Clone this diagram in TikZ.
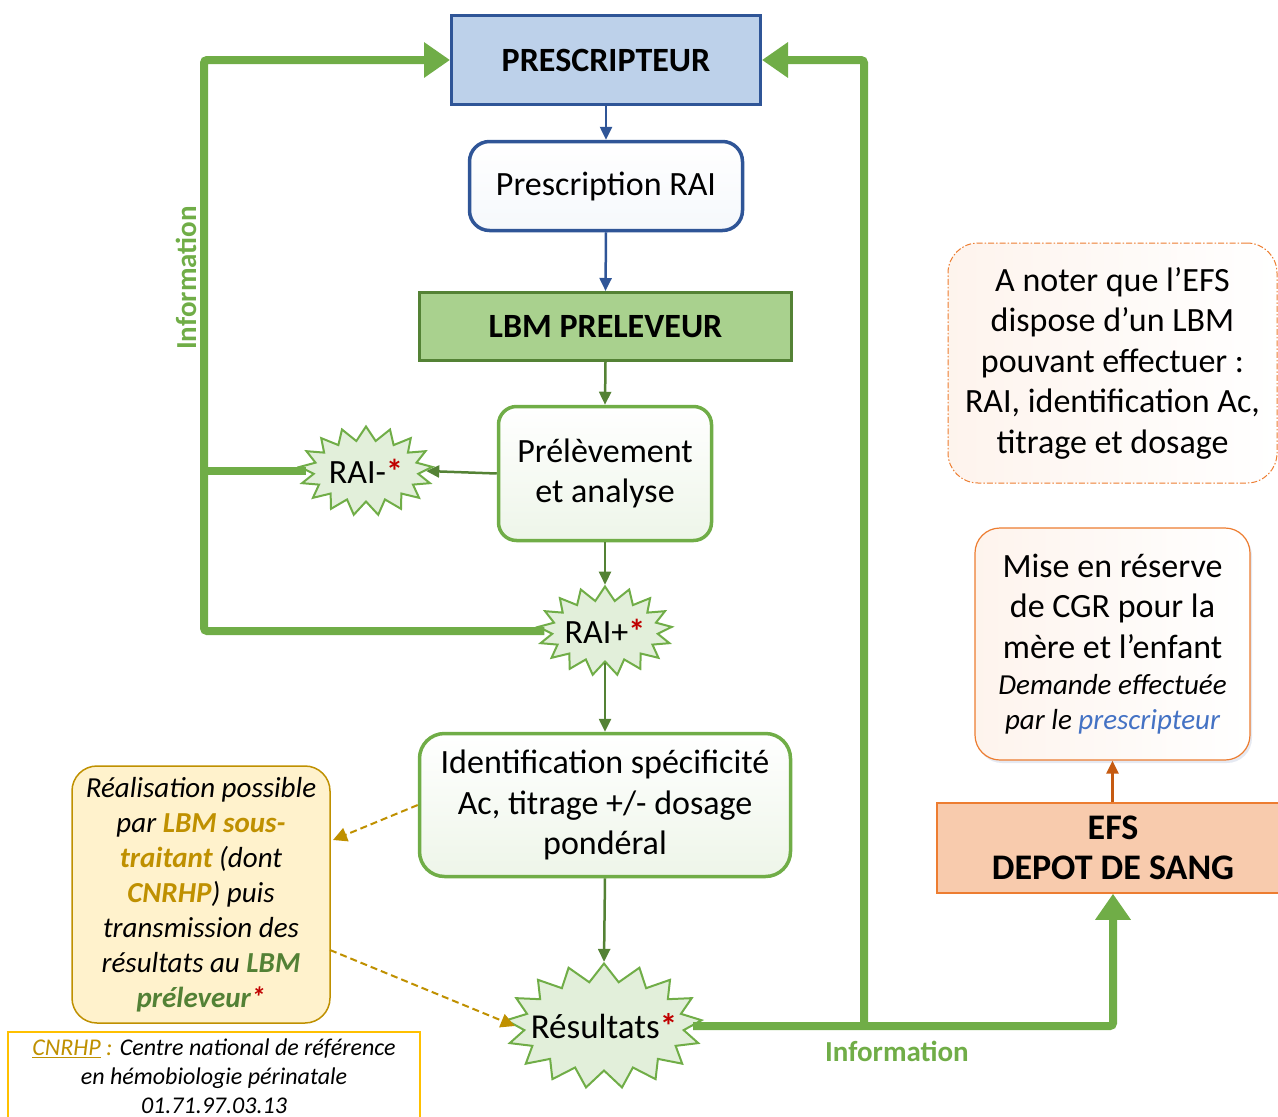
\documentclass[tikz,border=0pt]{standalone}
\usepackage{fontspec}
\setmainfont{Carlito}
\usetikzlibrary{arrows.meta,shapes.symbols,shadows}
\definecolor{bluebd}{HTML}{2F5597}
\definecolor{bluefill}{HTML}{BDD1EA}
\definecolor{lbmfill}{HTML}{A9D18E}
\definecolor{lbmbd}{HTML}{548235}
\definecolor{greenln}{HTML}{70AD47}
\definecolor{darkgreen}{HTML}{548235}
\definecolor{starfill}{HTML}{E2EFDA}
\definecolor{yelfill}{HTML}{FFF2CC}
\definecolor{gold}{HTML}{BF9000}
\definecolor{goldbd}{HTML}{FFC000}
\definecolor{txtgreen}{HTML}{538135}
\definecolor{efsfill}{HTML}{F8CBAD}
\definecolor{efsbd}{HTML}{ED7D31}
\definecolor{orarrow}{HTML}{C55A11}
\definecolor{bluetxt}{HTML}{4472C4}
\definecolor{redast}{HTML}{C00000}
\newcommand{\redstar}{\textcolor{redast}{\textbf{*}}}
\begin{document}
\begin{tikzpicture}[x=1pt,y=-1pt,
  every node/.style={font=\fontsize{34}{40.5}\selectfont, align=center, inner sep=0pt},
  sqbox/.style={draw, line width=3pt, rectangle},
  rbox/.style={draw, line width=3.5pt, rounded corners=20pt},
  burst/.style={starburst, random starburst=0, starburst points=17, starburst point height=14pt, draw=greenln, fill=starfill, line width=2pt},
  info/.style={draw=greenln, line width=8pt},
  bigtip/.style={-{Triangle[length=26pt,width=34pt]}},
  thinarr/.style={line width=2.5pt, -{Triangle[length=13pt,width=12pt]}},
  dasharr/.style={draw=gold, line width=2pt, dash pattern=on 7pt off 4pt, -{Triangle[length=14pt,width=14pt]}},
  infolbl/.style={font=\fontsize{29}{32}\selectfont\bfseries, text=greenln}
]
\useasboundingbox (0,0) rectangle (1278,1117);

% main column
\node[sqbox, draw=bluebd, fill=bluefill, minimum width=309pt, minimum height=89pt, font=\fontsize{34}{40}\selectfont\bfseries] (presc) at (606,60) {PRESCRIPTEUR};
\node[rbox, draw=bluebd, top color=white, bottom color=bluefill!15, minimum width=273pt, minimum height=89pt] (prx) at (606,186) {Prescription RAI};
\node[sqbox, draw=lbmbd, fill=lbmfill, minimum width=372pt, minimum height=68pt, font=\fontsize{34}{40}\selectfont\bfseries] (lbm) at (605.5,326.5) {LBM PRELEVEUR};
\node[rbox, draw=greenln, top color=white, bottom color=starfill!60, minimum width=213pt, minimum height=134pt, rounded corners=18pt] (prel) at (605,473.5) {Prélèvement\\et analyse};
\node[burst, minimum width=133pt, minimum height=89pt, label={center:RAI-\redstar}] (raim) at (366,471) {};
\node[burst, minimum width=134pt, minimum height=89pt, label={center:RAI+\redstar}] (raip) at (605,631) {};
\node[rbox, draw=greenln, top color=white, bottom color=starfill!60, minimum width=371pt, minimum height=143pt, rounded corners=25pt] (ident) at (605,805) {Identification spécificité\\Ac, titrage +/- dosage\\pondéral};
\node[burst, minimum width=196pt, minimum height=125pt, starburst point height=18pt, label={[font=\fontsize{35}{40}\selectfont]center:Résultats\redstar}] (res) at (604,1026) {};

% left notes
\node[draw=gold, line width=1.5pt, fill=yelfill, rounded corners=25pt, minimum width=258pt, minimum height=257pt, font=\fontsize{29}{35}\selectfont\itshape] (yel) at (201,894.5)
  {Réalisation possible\\par \textcolor{gold}{\textbf{LBM sous-}}\\\textcolor{gold}{\textbf{traitant}} (dont\\\textcolor{gold}{\textbf{CNRHP}}) puis\\transmission des\\résultats au \textcolor{txtgreen}{\textbf{LBM}}\\\textcolor{txtgreen}{\textbf{préleveur}}\redstar};
\node[draw=goldbd, line width=1.5pt, fill=white, minimum width=412pt, minimum height=88pt, font=\fontsize{24}{29}\selectfont\itshape] (cnrhp) at (214,1076)
  {\textcolor{gold}{\underline{CNRHP} :} Centre national de référence\\en hémobiologie périnatale\\01.71.97.03.13};

% right notes
\node[draw=efsbd, line width=1pt, dash pattern=on 6pt off 2pt on 1.5pt off 2pt, rounded corners=30pt, left color=efsfill!22, right color=white, minimum width=329pt, minimum height=240pt] (note) at (1112.5,363)
  {A noter que l’EFS\\dispose d’un LBM\\pouvant effectuer :\\RAI, identification Ac,\\titrage et dosage};
\node[draw=efsbd, line width=1.2pt, rounded corners=25pt, left color=efsfill!22, right color=white, minimum width=275pt, minimum height=232pt, drop shadow={shadow xshift=2pt, shadow yshift=-3pt, fill=bluebd!25}] (mise) at (1112.5,644)
  {Mise en réserve\\de CGR pour la\\mère et l’enfant\\[-4pt]{\fontsize{29}{34}\selectfont\itshape Demande effectuée}\\[-6pt]{\fontsize{29}{34}\selectfont\itshape par le \textcolor{bluetxt}{prescripteur}}};
\node[draw=efsbd, line width=1.5pt, fill=efsfill, minimum width=352pt, minimum height=90pt, font=\fontsize{36}{40}\selectfont\bfseries] (efs) at (1113,848) {EFS\\DEPOT DE SANG};

% thin arrows
\draw[thinarr, bluebd] (presc.south) -- (prx.north);
\draw[thinarr, bluebd] (prx.south) -- (lbm.north);
\draw[thinarr, darkgreen] (lbm.south) -- (prel.north);
\draw[thinarr, darkgreen] (prel.west) -- (raim.east);
\draw[thinarr, darkgreen] (prel.south) -- (raip.north);
\draw[thinarr, darkgreen] (raip.south) -- (ident.north);
\draw[thinarr, darkgreen] (ident.south) -- (res.north);
\draw[thinarr, orarrow] (efs.north -| mise.south) -- (mise.south);

% dashed gold arrows
\coordinate (yin) at (333,840);
\coordinate (yout) at (330,950);
\draw[dasharr] (ident.west |- 0,805) -- (yin);
\draw[dasharr] (yout) -- (res.west);

% information loops
\coordinate (cL) at (204,631);
\coordinate (cR) at (864,1026);
\draw[info, bigtip, rounded corners=3pt] (raip.west) -- (cL) |- (presc.west);
\draw[info] (raim.west) -- (raim.west -| cL);
\draw[info, bigtip, rounded corners=3pt] (res.east) -| (efs.south);
\draw[info, bigtip, rounded corners=3pt] (cR) |- (presc.east);

\node[infolbl, rotate=90] (infoL) at (186,278) {Information};
\node[infolbl] (infoB) at (897,1051) {Information};
\end{tikzpicture}
\end{document}
